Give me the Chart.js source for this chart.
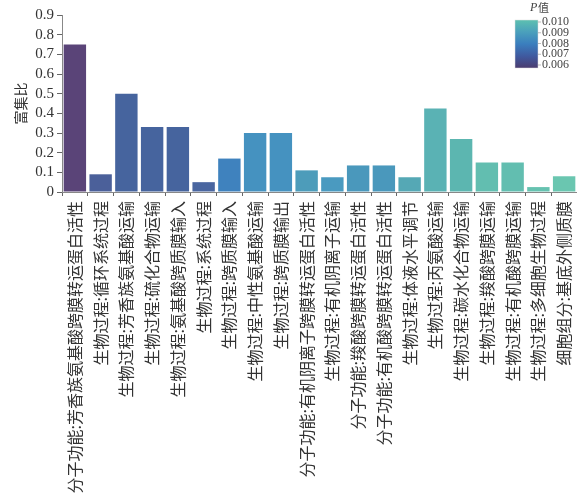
<!DOCTYPE html>
<html>
<head>
<meta charset="utf-8">
<script src="https://cdn.jsdelivr.net/npm/chart.js@4/dist/chart.umd.min.js"></script>
<style>
  html, body { margin: 0; padding: 0; background: #fff; }
  #wrap { width: 577px; height: 501px; position: relative; }
</style>
</head>
<body>
<div id="wrap"><canvas id="c"></canvas></div>
<script>
const categories = [
  "分子功能:芳香族氨基酸跨膜转运蛋白活性",
  "生物过程:循环系统过程",
  "生物过程:芳香族氨基酸运输",
  "生物过程:硫化合物运输",
  "生物过程:氨基酸跨质膜输入",
  "生物过程:系统过程",
  "生物过程:跨质膜输入",
  "生物过程:中性氨基酸运输",
  "生物过程:跨质膜输出",
  "分子功能:有机阴离子跨膜转运蛋白活性",
  "生物过程:有机阴离子运输",
  "分子功能:羧酸跨膜转运蛋白活性",
  "分子功能:有机酸跨膜转运蛋白活性",
  "生物过程:体液水平调节",
  "生物过程:丙氨酸运输",
  "生物过程:碳水化合物运输",
  "生物过程:羧酸跨膜运输",
  "生物过程:有机酸跨膜运输",
  "生物过程:多细胞生物过程",
  "细胞组分:基底外侧质膜"
];
const enrichment = [0.75, 0.09, 0.50, 0.33, 0.33, 0.05, 0.17, 0.30, 0.30, 0.11,
                    0.075, 0.135, 0.135, 0.075, 0.425, 0.27, 0.15, 0.15, 0.025, 0.08];
const barColors = ["#5a4478", "#4b609a", "#46649e", "#46649e", "#46649e", "#4a66a0",
                   "#3f82be", "#4592c0", "#4592c0", "#4d9cba", "#4a9ac0", "#4a98bc",
                   "#4a98bc", "#55a8b5", "#5ab2b4", "#5cb6b0", "#62beb0", "#62beb0",
                   "#66c2b0", "#6ac6b0"];
const yTicks = [0, 0.1, 0.2, 0.3, 0.4, 0.5, 0.6, 0.7, 0.8, 0.9];
const pTickLabels = ["0.010", "0.009", "0.008", "0.007", "0.006"];
const pGradientStops = ["#5cc0b0", "#4aa0bc", "#3a7ebe", "#3f5aa0", "#4b3c6f"];

const colorbarPlugin = {
  id: 'colorbar',
  afterDraw(chart) {
    const ctx = chart.ctx;
    const x = 515, y = 20, w = 23, h = 48;
    ctx.save();
    const g = ctx.createLinearGradient(0, y, 0, y + h);
    pGradientStops.forEach((c, i) => g.addColorStop(i / (pGradientStops.length - 1), c));
    ctx.fillStyle = g;
    ctx.fillRect(x, y, w, h);
    ctx.strokeStyle = '#ddd';
    ctx.lineWidth = 0.5;
    ctx.strokeRect(x, y, w, h);
    ctx.fillStyle = '#444';
    ctx.strokeStyle = '#777';
    ctx.font = '12px "Liberation Serif", serif';
    ctx.textBaseline = 'middle';
    ctx.textAlign = 'left';
    pTickLabels.forEach((t, i) => {
      const ty = y + 2 + i * (h - 5) / (pTickLabels.length - 1);
      ctx.beginPath();
      ctx.moveTo(x + w, ty);
      ctx.lineTo(x + w + 3, ty);
      ctx.stroke();
      ctx.fillText(t, x + w + 4, ty);
    });
    ctx.font = 'italic 12px "Liberation Serif", serif';
    ctx.fillText('P', 530, 8);
    ctx.font = '11px "Noto Sans CJK SC"';
    ctx.fillText('值', 538, 8);
    ctx.restore();
  }
};

new Chart(document.getElementById('c'), {
  type: 'bar',
  data: {
    labels: categories,
    datasets: [{
      data: enrichment,
      backgroundColor: barColors,
      borderWidth: 0,
      barPercentage: 0.87,
      categoryPercentage: 1.0
    }]
  },
  options: {
    responsive: true,
    maintainAspectRatio: false,
    animation: false,
    layout: { padding: { top: 15, left: 12, right: 0, bottom: 0 } },
    plugins: { legend: { display: false }, tooltip: { enabled: false } },
    scales: {
      x: {
        afterFit(axis) { axis.height = 309; axis.paddingLeft = 0; axis.paddingRight = 0; },
        grid: { display: true, drawOnChartArea: false, drawTicks: true, tickLength: 4, color: '#666' },
        border: { display: true, color: '#888' },
        ticks: {
          autoSkip: false, maxRotation: 90, minRotation: 90,
          color: '#333', padding: 5,
          font: { family: '"Noto Sans CJK SC"', size: 16 }
        }
      },
      y: {
        min: 0, max: 0.9,
        afterFit(axis) { axis.width = 50; axis.paddingTop = 0; axis.paddingBottom = 0; },
        afterBuildTicks(axis) { axis.ticks = yTicks.map(v => ({ value: v })); },
        grid: { display: true, drawOnChartArea: false, drawTicks: true, tickLength: 5, color: '#666' },
        border: { display: true, color: '#888' },
        ticks: {
          autoSkip: false,
          color: '#333', padding: 3,
          font: { family: '"Liberation Serif", serif', size: 15 },
          callback: v => String(Math.round(v * 10) / 10)
        },
        title: {
          display: true, text: '富集比', color: '#333', padding: 0,
          font: { family: '"Noto Sans CJK SC"', size: 14 }
        }
      }
    }
  },
  plugins: [colorbarPlugin]
});
</script>
</body>
</html>
